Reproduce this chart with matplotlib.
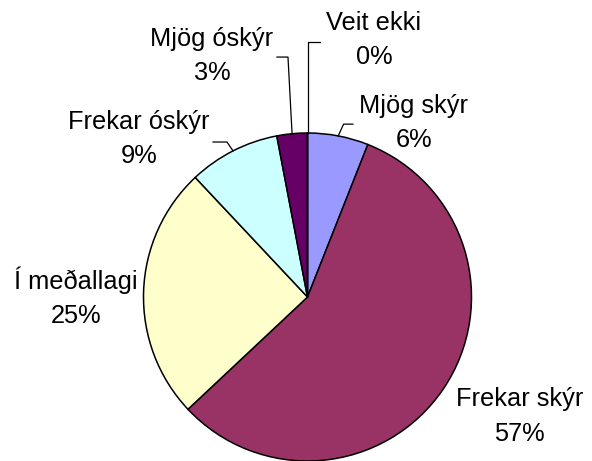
import numpy as np
import matplotlib
matplotlib.use('Agg')
import matplotlib.pyplot as plt

plt.rcParams['font.family'] = ['Liberation Sans', 'DejaVu Sans']

# Data (clockwise from 12 o'clock)
labels = ['Mjög skýr', 'Frekar skýr', 'Í meðallagi', 'Frekar óskýr', 'Mjög óskýr', 'Veit ekki']
values = [6, 57, 25, 9, 3, 0]
colors = ['#9999FF', '#993366', '#FFFFCC', '#CCFFFF', '#660066', '#FF8080']

# label text centres (units of pie radius)
label_pos = [(0.649, 1.06), (1.293, -0.729), (-1.41, 0.0), (-1.027, 0.963), (-0.582, 1.47), (0.405, 1.567)]
# leader line elbows for small slices: (elbow point, end point)
leaders = {0: [(0.22, 1.054), (0.277, 1.054)],
           3: [(-0.491, 0.945), (-0.576, 0.945)],
           4: [(-0.119, 1.463), (-0.186, 1.463)],
           5: [(0.0, 1.555), (0.076, 1.555)]}

fig = plt.figure(figsize=(5.92, 4.61), dpi=100)
ax = fig.add_axes([143.5/592, 0.0, 328/592, 328/461])
wedges, _ = ax.pie(values, colors=colors, startangle=90, counterclock=False,
                   wedgeprops=dict(edgecolor='black', linewidth=1.1))
ax.set_xlim(-1, 1)
ax.set_ylim(-1, 1)
ax.set_aspect('equal')
ax.axis('off')

total = float(sum(values))
for i, (lab, v) in enumerate(zip(labels, values)):
    tx, ty = label_pos[i]
    ax.text(tx, ty, '%s\n%d%%' % (lab, round(v / total * 100)), ha='center', va='center',
            fontsize=18.3, linespacing=1.55, clip_on=False)
    if i in leaders:
        w = wedges[i]
        mid = np.deg2rad((w.theta1 + w.theta2) / 2)
        x0, y0 = np.cos(mid), np.sin(mid)
        pts = [(x0, y0)] + leaders[i]
        ax.plot([p[0] for p in pts], [p[1] for p in pts], color='black', lw=0.9, clip_on=False)

fig.savefig('out.png', dpi=100, facecolor='white')
